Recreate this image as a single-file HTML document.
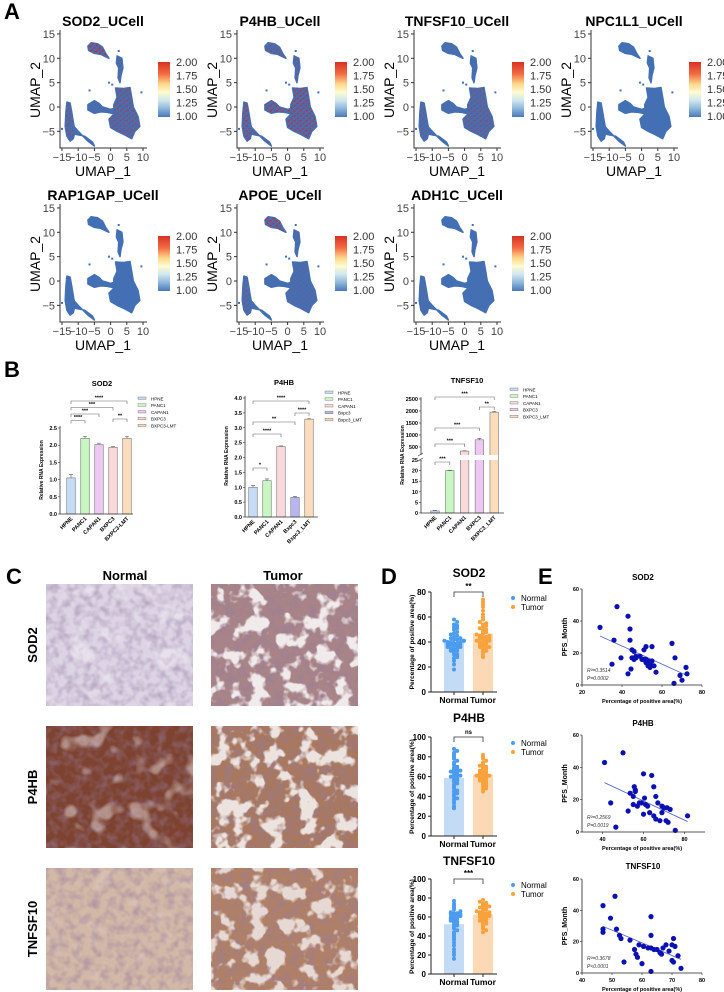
<!DOCTYPE html>
<html><head><meta charset="utf-8"><style>
html,body{margin:0;padding:0;background:#fff;}
svg{display:block;font-family:"Liberation Sans",Arial,sans-serif;}
</style></head><body>
<svg id="fig" width="724" height="992" viewBox="0 0 724 992" xmlns="http://www.w3.org/2000/svg">
<defs>
<linearGradient id="cbar" x1="0" y1="0" x2="0" y2="1">
<stop offset="0" stop-color="#d73027"/><stop offset="0.22" stop-color="#f46d43"/><stop offset="0.4" stop-color="#fdd78a"/><stop offset="0.55" stop-color="#fefbd0"/><stop offset="0.7" stop-color="#cfe6f0"/><stop offset="0.85" stop-color="#8db6da"/><stop offset="1" stop-color="#4a78b8"/>
</linearGradient>
<pattern id="redDots" width="6" height="5" patternUnits="userSpaceOnUse">
<rect x="0" y="0" width="1.6" height="1.6" fill="#e0201a"/><rect x="3" y="2.5" width="1.6" height="1.6" fill="#e0201a"/><rect x="4.5" y="0.5" width="1.2" height="1.2" fill="#e0201a"/><rect x="1.5" y="3.6" width="1.2" height="1.2" fill="#e0201a"/>
</pattern>
<filter id="tex" x="0" y="0" width="1" height="1">
<feTurbulence type="fractalNoise" baseFrequency="0.12" numOctaves="2" seed="3"/>
<feColorMatrix type="matrix" values="0 0 0 0 0.3  0 0 0 0 0.2  0 0 0 0 0.35  0 0 0 1.4 -0.55"/>
<feComposite in2="SourceGraphic" operator="in"/>
</filter>
<filter id="blotch" x="0" y="0" width="1" height="1">
<feTurbulence type="fractalNoise" baseFrequency="0.06" numOctaves="3" seed="7"/>
<feColorMatrix type="matrix" values="0 0 0 0 1  0 0 0 0 1  0 0 0 0 1  0 0 0 -8 3.9"/>
<feComposite in2="SourceGraphic" operator="in"/>
</filter>
<filter id="blotch2" x="0" y="0" width="1" height="1">
<feTurbulence type="fractalNoise" baseFrequency="0.045" numOctaves="2" seed="11"/>
<feColorMatrix type="matrix" values="0 0 0 0 1  0 0 0 0 1  0 0 0 0 1  0 0 0 -7 3.0"/>
<feComposite in2="SourceGraphic" operator="in"/>
</filter>
</defs>
<text x="4" y="19" font-size="22" font-weight="bold">A</text>
<text x="4" y="377" font-size="22" font-weight="bold">B</text>
<text x="6" y="584" font-size="22" font-weight="bold">C</text>
<text x="381" y="584" font-size="22" font-weight="bold">D</text>
<text x="538" y="584" font-size="22" font-weight="bold">E</text>
</svg>
<script>
const NS='http://www.w3.org/2000/svg';
const svg=document.getElementById('fig');
function mk(tag,attrs,parent,txt){const e=document.createElementNS(NS,tag);for(const k in attrs)e.setAttribute(k,attrs[k]);if(txt!==undefined)e.textContent=txt;(parent||svg).appendChild(e);return e;}

/* ================= Panel A: UMAP ================= */
const umapGenes=['SOD2_UCell','P4HB_UCell','TNFSF10_UCell','NPC1L1_UCell','RAP1GAP_UCell','APOE_UCell','ADH1C_UCell'];
const clusterTop=[[-7,12.5],[-6,13.2],[-4,13],[-2.5,12.3],[-1.5,11],[-0.5,10],[-1.5,10.3],[-3,10.8],[-5,11],[-6.8,11.6]];
const clusterStream=[[2,10.5],[3.5,10],[3.8,8],[3.2,6.5],[2.9,5],[2.3,6],[2.5,8],[1.8,9]];
const clusterMidleft=[[-7,0.5],[-5,1.3],[-3.5,0.7],[-2.5,0],[0,-0.5],[1,-0.3],[1,-1.4],[-1,-1.1],[-3,-1],[-5,-1.3],[-7,-0.6]];
const clusterBig=[[1.5,3.9],[4,3.8],[6,4],[6.5,2],[7,0],[8.5,-2],[9,-4],[7.5,-5],[6.5,-6.5],[4,-5.6],[2,-5],[0,-4.2],[-0.5,-2.5],[1,-1.5],[1,0.5],[2,2]];
const clusterLeft=[[-13.5,1],[-12.5,0.8],[-12,-1],[-11.5,-3],[-11,-5],[-11.5,-6.5],[-12.5,-7],[-13.5,-6],[-14,-4],[-13.8,-1]];
const clusterTail=[[-12,-3.5],[-10,-5],[-7,-7],[-5,-8],[-5.6,-7.2],[-8,-6],[-11,-5.6]];
const clusters=[clusterTop,clusterStream,clusterMidleft,clusterBig,clusterLeft,clusterTail];
const strayPoints=[[-0.5,5],[9.5,3],[-6.5,3.4],[2.5,11.5],[-15,-4.5],[0.5,4.6]];
const densSOD2=[0.95,0.25,0.15,0.55,0.45,0.15];
const densP4HB=[0.45,0.4,0.75,0.75,0.75,0.45];
const densTNFSF10=[0.1,0.1,0.15,0.45,0.35,0.1];
const densNPC1L1=[0.02,0,0,0.03,0.02,0];
const densRAP1GAP=[0.02,0,0.02,0.04,0.03,0];
const densAPOE=[0.9,0.2,0.1,0.2,0.35,0.15];
const densADH1C=[0.03,0.05,0.02,0.05,0.15,0.05];
const umapDens=[densSOD2,densP4HB,densTNFSF10,densNPC1L1,densRAP1GAP,densAPOE,densADH1C];
const umapXTicks=[-15,-10,-5,0,5,10];
const umapYTicks=[15,10,5,0,-5];
const cbarLabels=['2.00','1.75','1.50','1.25','1.00'];

umapGenes.forEach((gene,i)=>{
  const col=i<4?i:i-4, row=i<4?0:1;
  const dx=177*col, dy=174*row;
  const sx=u=>dx+62+(u+15)*3.24, sy=v=>dy+107-v*4.87;
  const g=mk('g',{});
  
  
  const t=mk('text',{x:dx+103,y:dy+26,'font-size':14,'font-weight':'bold','text-anchor':'middle'},g,gene);
  
  
  clusters.forEach((c,ci)=>{
    const pts=c.map(p=>sx(p[0]).toFixed(1)+','+sy(p[1]).toFixed(1)).join(' ');
    const pl=mk('polygon',{points:pts,fill:'#4270b5',stroke:'#4270b5','stroke-width':1.5,'stroke-linejoin':'round'},g);
    
    
    const d=umapDens[i][ci];
    if(d>0){
      const ov=mk('polygon',{points:pts,fill:'url(#redDots)',opacity:d},g);
      
      
    }
  });
  strayPoints.forEach(p=>{
    const r=mk('rect',{x:sx(p[0])-1,y:sy(p[1])-1,width:2,height:2,fill:'#4270b5'},g);
    
    
  });
  const ax=mk('path',{d:`M${dx+60},${dy+30}V${dy+148}H${dx+147}`,fill:'none',stroke:'#333','stroke-width':1},g);
  
  
  umapXTicks.forEach(v=>{
    mk('line',{x1:sx(v),x2:sx(v),y1:dy+148,y2:dy+151,stroke:'#333'},g);
    const tl=mk('text',{x:sx(v),y:dy+161,'font-size':11,fill:'#444','text-anchor':'middle'},g,v<0?'\u2212'+(-v):String(v));
    
    
  });
  umapYTicks.forEach(v=>{
    mk('line',{x1:dx+57,x2:dx+60,y1:sy(v),y2:sy(v),stroke:'#333'},g);
    const tl=mk('text',{x:dx+55,y:sy(v)+4,'font-size':11,fill:'#444','text-anchor':'end'},g,v<0?'\u2212'+(-v):String(v));
    
    
  });
  const xl=mk('text',{x:dx+103,y:dy+176,'font-size':14,'text-anchor':'middle'},g,'UMAP_1');
  
  
  const yl=mk('text',{x:0,y:0,'font-size':14,'text-anchor':'middle',transform:`translate(${dx+40},${dy+90}) rotate(-90)`},g,'UMAP_2');
  
  
  const cb=mk('rect',{x:dx+158,y:dy+62,width:12,height:55,fill:'url(#cbar)'},g);
  
  
  cbarLabels.forEach((l,k)=>{
    const cl=mk('text',{x:dx+176,y:dy+66+k*13.5,'font-size':11,fill:'#333'},g,l);
    
    
  });
});

/* ================= Panel B: bar charts ================= */
const bSod2Cats=['HPNE','PANC1','CAPAN1','BXPC3','BXPC3-LMT'];
const bSod2Vals=[1.05,2.2,2.02,1.94,2.2];
const bSod2Errs=[0.1,0.06,0.04,0.02,0.06];
const bSod2Ticks=[0,0.5,1.0,1.5,2.0,2.5];
const bP4hbCats=['HPNE','PANC1','CAPAN1','Bxpc3','Bxpc3_LMT'];
const bP4hbVals=[1.0,1.22,2.37,0.66,3.29];
const bP4hbErrs=[0.06,0.06,0.02,0.03,0.01];
const bP4hbTicks=[0,0.5,1.0,1.5,2.0,2.5,3.0,3.5,4.0];
const bTnfCats=['HPNE','PANC1','CAPAN1','BXPC3','BXPC3_LMT'];
const bTnfVals=[1,20,330,800,1950];
const bTnfErrs=[0.2,0.2,10,60,40];
const bTnfLowTicks=[0,5,10,15,20,25];
const bTnfHighTicks=[500,1000,1500,2000,2500];

function barChart(o){
  const g=mk('g',{});
  
  
  const t=mk('text',{x:o.titleX,y:o.titleY,'font-size':7.5,'font-weight':'bold','text-anchor':'middle'},g,o.title);
  
  
  const cx=i=>o.axisX+o.off+i*o.step;
  o.vals.forEach((v,i)=>{
    const top=o.y(v), bw=8.5;
    const b=mk('rect',{x:cx(i)-bw/2,y:top,width:bw,height:o.y0-top,fill:o.fills[i],stroke:'#777','stroke-width':0.6},g);
    
    
    const et=o.y(v+o.errs[i]);
    const e=mk('path',{d:`M${cx(i)},${top}V${et}M${cx(i)-2},${et}H${cx(i)+2}`,stroke:'#555','stroke-width':0.6,fill:'none'},g);
    
    
    const xl=mk('text',{x:0,y:0,'font-size':5.5,'font-weight':'bold','text-anchor':'end',transform:`translate(${cx(i)+2},${o.y0+5}) rotate(-45)`},g,o.cats[i]);
    
    
  });
  if(o.breakY){
    const br=mk('rect',{x:o.axisX-3,y:o.breakY[0],width:80,height:o.breakY[1]-o.breakY[0],fill:'#fff'},g);
    
    
    mk('path',{d:`M${o.axisX-3},${o.breakY[1]+1}l5,-3M${o.axisX-3},${o.breakY[0]+1}l5,-3`,stroke:'#333','stroke-width':0.6},g);
  }
  o.axes.forEach(a=>{
    const p=mk('path',{d:a,stroke:'#333','stroke-width':0.8,fill:'none'},g);
    
    
  });
  o.tickSets.forEach(ts=>{
    ts.ticks.forEach(v=>{
      mk('line',{x1:o.axisX-2,x2:o.axisX,y1:ts.f(v),y2:ts.f(v),stroke:'#333','stroke-width':0.6},g);
      const tl=mk('text',{x:o.axisX-3,y:ts.f(v)+2,'font-size':5.5,'font-weight':'bold','text-anchor':'end'},g,ts.fmt(v));
      
      
    });
  });
  const yt=mk('text',{x:0,y:0,'font-size':5,'font-weight':'bold','text-anchor':'middle',transform:`translate(${o.axisX-17},${o.yTitleY}) rotate(-90)`},g,'Relative RNA Expression');
  
  
  o.brackets.forEach(bk=>{
    const x1=cx(bk[0]),x2=cx(bk[1]),yy=bk[2];
    const p=mk('path',{d:`M${x1},${yy+3}V${yy}H${x2}V${yy+3}`,stroke:'#666','stroke-width':0.6,fill:'none'},g);
    
    
    const s=mk('text',{x:(x1+x2)/2,y:yy-1.5,'font-size':5.5,'font-weight':'bold','text-anchor':'middle'},g,bk[3]);
    
    
  });
  o.cats.forEach((c,i)=>{
    const ly=o.legY+i*6.8;
    const lr=mk('rect',{x:o.legX,y:ly-2,width:8,height:2.4,fill:o.fills[i],stroke:'#666','stroke-width':0.4},g);
    
    
    const lt=mk('text',{x:o.legX+13,y:ly+1.3,'font-size':4.5},g,o.legLabels?o.legLabels[i]:c);
    
    
  });
}
const fmt1=v=>v.toFixed(1), fmt0=v=>String(v);
const sodY=v=>514-v*34.4;
barChart({name:'bar-chart-sod2',title:'SOD2',titleX:102,titleY:386,axisX:60,off:11,step:14,y0:514,y:sodY,cats:bSod2Cats,vals:bSod2Vals,errs:bSod2Errs,
  fills:['#c6dcf6','#c9f7c2','#ecc8f2','#fbd9db','#fddcbc'],
  axes:['M60,426V514H133'],tickSets:[{ticks:bSod2Ticks,f:sodY,fmt:fmt1}],yTitleY:470,
  brackets:[[0,4,401,'****'],[0,3,407.5,'***'],[0,2,414,'***'],[0,1,420.5,'****'],[3,4,419,'**']],
  legX:138,legY:399,legLabels:['HPNE','PANC1','CAPAN1','BXPC3','BXPC3-LMT']});
const p4Y=v=>517-v*29.75;
barChart({name:'bar-chart-p4hb',title:'P4HB',titleX:284,titleY:385,axisX:245,off:8,step:14,y0:517,y:p4Y,cats:bP4hbCats,vals:bP4hbVals,errs:bP4hbErrs,
  fills:['#c6dcf6','#c9f7c2','#fbd9db','#b8b6f2','#fddcbc'],
  axes:['M245,396V517H318'],tickSets:[{ticks:bP4hbTicks,f:p4Y,fmt:fmt1}],yTitleY:456,
  brackets:[[0,4,401,'****'],[3,4,413,'****'],[0,3,422,'**'],[0,2,434,'****'],[0,1,468,'*']],
  legX:325,legY:393});
const tnfY=v=>v<=25?513-v*2.12:459-v*0.024;
barChart({name:'bar-chart-tnfsf10',title:'TNFSF10',titleX:467,titleY:383,axisX:421,off:14,step:14.8,y0:513,y:tnfY,cats:bTnfCats,vals:bTnfVals,errs:bTnfErrs,
  fills:['#c6dcf6','#c9f7c2','#fbd9db','#ecc8f2','#fddcbc'],breakY:[455,460],
  axes:['M421,397V455','M421,460V513H504'],
  tickSets:[{ticks:bTnfLowTicks,f:tnfY,fmt:fmt0},{ticks:bTnfHighTicks,f:tnfY,fmt:fmt0}],yTitleY:455,
  brackets:[[0,4,397,'***'],[3,4,407,'**'],[0,3,428,'***'],[0,2,444,'***'],[0,1,462,'***']],
  legX:510,legY:390});

/* ================= Panel C: IHC images ================= */
const ihcRows=['SOD2','P4HB','TNFSF10'];
const ihcBase=[['#dcd3e4','#a98487'],['#7e4330','#a8785f'],['#d2b8a6','#b08066']];
const ihcTex=[['#7868a8','#7a4a50'],['#4a2010','#5a2a18'],['#8a6050','#6a3520']];
const ihcWhite=[[0.15,0.38],[0.18,0.36],[0.05,0.32]];
const tC1=mk('text',{x:125,y:580,'font-size':13,'font-weight':'bold','text-anchor':'middle'},svg,'Normal');


const tC2=mk('text',{x:283,y:580,'font-size':13,'font-weight':'bold','text-anchor':'middle'},svg,'Tumor');


ihcRows.forEach((r,ri)=>{
  const y=584+ri*142;
  const rl=mk('text',{x:0,y:0,'font-size':13,'font-weight':'bold','text-anchor':'middle',transform:`translate(37,${y+61}) rotate(-90)`},svg,r);
  
  
  [46,211].forEach((x,ci)=>{
    const g=mk('g',{});
    
    
    mk('rect',{x:x,y:y,width:147,height:122,fill:ihcBase[ri][ci]},g);
    mk('rect',{x:x,y:y,width:147,height:122,fill:ihcTex[ri][ci],filter:'url(#tex)',opacity:0.8},g);
    mk('rect',{x:x,y:y,width:147,height:122,fill:'#fff',filter:ci?'url(#blotch)':'url(#blotch2)',opacity:Math.min(1,ihcWhite[ri][ci]*2.2)},g);
  });
});

/* ================= Panel D: dot + bar ================= */
const dSod2Normal=[18,22,25,27,28,30,30,32,33,33,34,35,35,36,36,37,37,38,38,38,39,39,40,40,40,41,41,41,42,42,43,43,44,45,46,47,48,50,51,52,53,54,56,58];
const dSod2Tumor=[28,30,32,33,34,35,36,36,37,38,38,39,40,40,41,41,42,42,43,43,44,44,45,45,46,47,48,49,50,51,52,53,54,55,56,58,60,62,65,68,70,72,74];
const dP4hbNormal=[28,30,33,35,37,38,40,42,43,45,46,48,50,52,53,55,56,57,58,59,60,60,61,62,63,64,65,65,66,67,68,69,70,72,74,76,78,80,82,84,86,88];
const dP4hbTumor=[45,47,48,50,51,52,53,54,55,56,57,58,58,59,60,60,61,61,62,62,63,64,65,66,67,68,69,70,71,72,74,76,78,80,82];
const dTnfNormal=[16,20,23,26,30,33,36,38,40,42,44,46,48,50,51,52,53,54,55,56,57,58,58,59,60,60,61,62,62,63,63,64,64,65,66,68,70,72,74,77];
const dTnfTumor=[44,46,48,50,52,53,54,55,56,57,58,59,60,60,61,62,62,63,63,64,64,65,65,66,67,68,69,70,70,71,72,73,74,75,76,78];
const dGenes=['SOD2','P4HB','TNFSF10'];
const dNormal=[dSod2Normal,dP4hbNormal,dTnfNormal];
const dTumor=[dSod2Tumor,dP4hbTumor,dTnfTumor];
const dTicks=[[0,20,40,60,80],[0,20,40,60,80,100],[0,20,40,60,80,100]];
const dSig=['**','ns','***'];
const dAxes=[{y0:692,ymax:80,ytop:592,title:577},{y0:836,ymax:100,ytop:737,title:722},{y0:974,ymax:100,ytop:879,title:865}];
const mean=a=>a.reduce((s,v)=>s+v,0)/a.length;
dGenes.forEach((gname,gi)=>{
  const A=dAxes[gi];
  const sy=v=>A.y0-(A.y0-A.ytop)*v/A.ymax;
  const g=mk('g',{});
  
  
  const t=mk('text',{x:469,y:A.title,'font-size':12,'font-weight':'bold','text-anchor':'middle'},g,gname);
  
  
  [[dNormal[gi],454,'#c4dbf6','#4b9cf0','Normal'],[dTumor[gi],483,'#fcd9b6','#f9a23c','Tumor']].forEach(([vals,cx,bf,dc,lab])=>{
    const m=mean(vals);
    const b=mk('rect',{x:cx-10,y:sy(m),width:20,height:A.y0-sy(m),fill:bf},g);
    
    
    const bins={};
    vals.forEach(v=>{
      const k=Math.round(v/2.5);
      bins[k]=(bins[k]||0)+1;
      const n=bins[k]-1;
      const off=(n%2?1:-1)*Math.ceil(n/2)*3.2;
      const c=mk('circle',{cx:cx+Math.max(-10,Math.min(10,off)),cy:sy(v),r:2,fill:dc},g);
      
      
    });
    const xl=mk('text',{x:cx,y:A.y0+11,'font-size':8.5,'font-weight':'bold','text-anchor':'middle'},g,lab);
    
    
  });
  const ax=mk('path',{d:`M431,${A.ytop}V${A.y0}H497`,stroke:'#222','stroke-width':1,fill:'none'},g);
  
  
  mk('path',{d:`M454,${A.y0}v3M483,${A.y0}v3`,stroke:'#222'},g);
  dTicks[gi].forEach(v=>{
    mk('line',{x1:428,x2:431,y1:sy(v),y2:sy(v),stroke:'#222'},g);
    const tl=mk('text',{x:426,y:sy(v)+3,'font-size':8,'font-weight':'bold','text-anchor':'end'},g,String(v));
    
    
  });
  const yt=mk('text',{x:0,y:0,'font-size':6.5,'font-weight':'bold','text-anchor':'middle',transform:`translate(414,${(A.y0+A.ytop)/2}) rotate(-90)`},g,'Percentage  of  positive area(%)');
  
  
  const by=A.ytop;
  const br=mk('path',{d:`M454,${by+5}V${by}H483V${by+5}`,stroke:'#333','stroke-width':0.8,fill:'none'},g);
  
  
  const st=mk('text',{x:468.5,y:by-3,'font-size':gi==1?6:8,'font-weight':'bold','text-anchor':'middle'},g,dSig[gi]);
  
  
  [['Normal','#4b9cf0',0],['Tumor','#f9a23c',1]].forEach(([l,c,k])=>{
    const ly=A.ytop+6+k*9;
    const d=mk('circle',{cx:513,cy:ly,r:2,fill:c},g);
    
    
    const lt=mk('text',{x:521,y:ly+3,'font-size':8},g,l);
    
    
  });
});

/* ================= Panel E: scatter ================= */
const eSod2X=[29,37.5,43,44,44,36,35,39.5,45,46,45,47,46,47,44.5,43,49,50,51,52,51,52,53,53,54,55,55,56,57,54,65,66.5,69,70,72,72.5,66,52];
const eSod2Y=[36,49,43,35,28,28,13,17,22,21,17,18,16,17,10,7,18,16,22,24,16,16,15,12,11,15,24,12,8,13,26,17,6,3,11,7,1,14];
const eP4hbX=[41,50,44,46.5,52.5,53.5,55,55,55.5,56,56,57,58,59,60,60,60.5,61,62,63,64,65,65,66,66,67,68,69,69,70,71,71.5,72,73,75.5,81.5];
const eP4hbY=[43,49,18,3,13,24,17,22,28,26,25,16,18,18,36,11,21,17,16,12,35,28,10,22,8,18,7,16,12,15,7,15,6,14,1,10];
const eTnfX=[47,47,47,51,49.5,51.5,52.5,53,54,56,57.5,58,58.5,59,60,60.5,62,63,63,63,63,64,65,66,66.5,67,68,69,70,70,70.5,70.5,71,72,73];
const eTnfY=[43,28,26,49,35,28,24,22,7,21,15,12,10,18,6,17,16,36,24,16,1,15,15,13,12,16,18,14,18,8,7,22,17,11,3];
const eGenes=['SOD2','P4HB','TNFSF10'];
const eXs=[eSod2X,eP4hbX,eTnfX], eYs=[eSod2Y,eP4hbY,eTnfY];
const eXTicks=[[20,40,60,80],[40,60,80],[40,50,60,70,80]];
const eYTicks=[0,20,40,60];
const eStats=[['R\u00b2=0.3514','P=0.0002'],['R\u00b2=0.2569','P=0.0019'],['R\u00b2=0.3678','P<0.0001']];
const eAx=[{xmin:20,xmax:80,y0:685,ytop:589,title:580},{xmin:30,xmax:90,y0:832,ytop:735,title:726},{xmin:40,xmax:80,y0:973,ytop:879,title:869}];
eGenes.forEach((gname,gi)=>{
  const A=eAx[gi];
  const sx=v=>582+(v-A.xmin)*120/(A.xmax-A.xmin)*(gi==1?1.025:1);
  const sy=v=>A.y0-(A.y0-A.ytop)*v/60;
  const g=mk('g',{});
  
  
  const t=mk('text',{x:643,y:A.title,'font-size':8,'font-weight':'bold','text-anchor':'middle'},g,gname);
  
  
  const xs=eXs[gi], ys=eYs[gi];
  const mx=mean(xs), my=mean(ys);
  let sxy=0,sxx=0;xs.forEach((x,k)=>{sxy+=(x-mx)*(ys[k]-my);sxx+=(x-mx)*(x-mx);});
  const slope=sxy/sxx, icpt=my-slope*mx;
  const x1=Math.min(...xs), x2=Math.max(...xs);
  const ln=mk('line',{x1:sx(x1),y1:sy(icpt+slope*x1),x2:sx(x2),y2:sy(icpt+slope*x2),stroke:'#5a6ad0','stroke-width':0.9},g);
  
  
  xs.forEach((x,k)=>{
    const c=mk('circle',{cx:sx(x),cy:sy(ys[k]),r:2.6,fill:'#0a10b4'},g);
    
    
  });
  const xend=sx(A.xmax);
  const ax=mk('path',{d:`M582,${A.ytop}V${A.y0}H${xend}`,stroke:'#222','stroke-width':0.8,fill:'none'},g);
  
  
  eXTicks[gi].forEach(v=>{
    mk('line',{x1:sx(v),x2:sx(v),y1:A.y0,y2:A.y0+2,stroke:'#222','stroke-width':0.6},g);
    const tl=mk('text',{x:sx(v),y:A.y0+9,'font-size':5.5,'font-weight':'bold','text-anchor':'middle'},g,String(v));
    
    
  });
  eYTicks.forEach(v=>{
    mk('line',{x1:580,x2:582,y1:sy(v),y2:sy(v),stroke:'#222','stroke-width':0.6},g);
    const tl=mk('text',{x:579,y:sy(v)+2,'font-size':5.5,'font-weight':'bold','text-anchor':'end'},g,String(v));
    
    
  });
  const xt=mk('text',{x:642,y:A.y0+18,'font-size':5.5,'font-weight':'bold','text-anchor':'middle'},g,'Percentage  of  positive area(%)');
  
  
  const yt=mk('text',{x:0,y:0,'font-size':7,'font-weight':'bold','text-anchor':'middle',transform:`translate(567,${(A.y0+A.ytop)/2}) rotate(-90)`},g,'PFS_Month');
  
  
  eStats[gi].forEach((s,k)=>{
    const st=mk('text',{x:587,y:A.y0-13+k*8,'font-size':5,'font-style':'italic',fill:'#333'},g,s);
    
    
  });
});
</script>
</body></html>
